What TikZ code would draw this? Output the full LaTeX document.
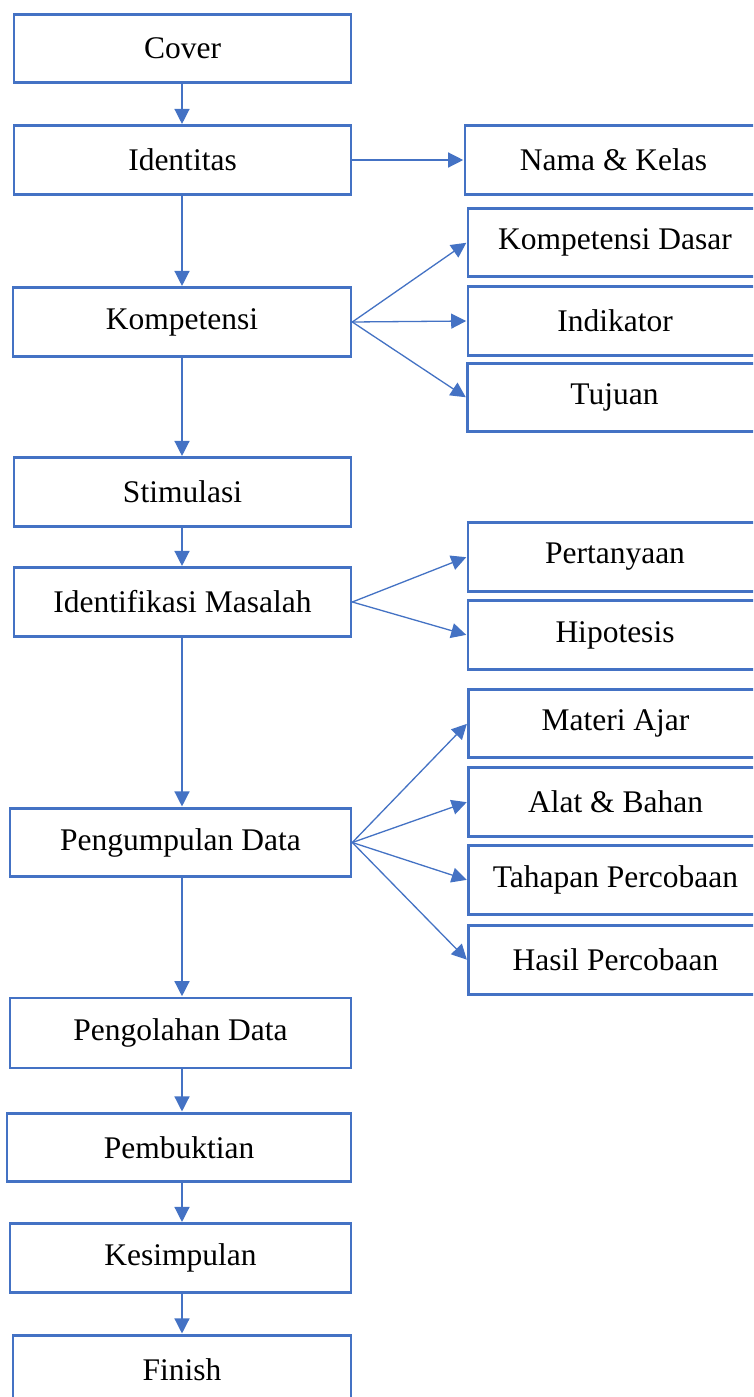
\documentclass[tikz,border=0pt]{standalone}
\usepackage{fontspec}
\setmainfont{Liberation Serif}
\usetikzlibrary{arrows.meta}
\definecolor{boxblue}{HTML}{4472C4}
\begin{document}
\begin{tikzpicture}[x=1pt,y=-1pt,
  box/.style={draw=boxblue, line width=2.6pt, fill=white, inner sep=0pt,
    minimum height=68.5pt, text=black, font=\fontsize{31.5}{36}\selectfont},
  leftbox/.style={box, minimum width=337pt},
  rightbox/.style={box, minimum width=294pt},
  arr/.style={draw=boxblue, line width=1.3pt,
    -{Triangle[length=15pt,width=15pt]}, shorten >=0.5pt}]
\useasboundingbox (0,0) rectangle (753,1397);
\clip (0,0) rectangle (753,1397);
\fill[white] (0,0) rectangle (753,1397);
\coordinate (spine) at (182,0);

% main column
\node[leftbox] (cover)    at (182.5,48.5)  {Cover};
\node[leftbox] (identitas) at (182.5,160)  {Identitas};
\node[leftbox, minimum width=338pt] (komp) at (182,322) {Kompetensi};
\node[leftbox] (stim)     at (182.5,492)   {Stimulasi};
\node[leftbox] (ident)    at (182.5,602)   {Identifikasi Masalah};
\node[leftbox, minimum width=341pt] (kumpul) at (180.5,842.5) {Pengumpulan Data};
\node[leftbox, minimum width=341pt, minimum height=70pt] (olah) at (180.5,1033) {Pengolahan Data};
\node[leftbox, minimum width=344pt] (bukti) at (179,1147.5) {Pembuktian};
\node[leftbox, minimum width=341pt] (simpul) at (180.5,1258) {Kesimpulan};
\node[leftbox, minimum width=338pt] (finish) at (182,1369.5) {Finish};

% side boxes
\node[rightbox, minimum width=297pt] (nama) at (613.5,160) {Nama \& Kelas};
\node[rightbox] (kd)     at (615,242.5) {Kompetensi Dasar};
\node[rightbox] (indi)   at (615,321)   {Indikator};
\node[rightbox] (tuj)    at (614.5,397.5) {Tujuan};
\node[rightbox] (tanya)  at (615,557)   {Pertanyaan};
\node[rightbox] (hipo)   at (615,635)   {Hipotesis};
\node[rightbox] (materi) at (615.5,723.5) {Materi Ajar};
\node[rightbox] (alat)   at (615.5,802) {Alat \& Bahan};
\node[rightbox] (tahap)  at (615.5,880) {Tahapan Percobaan};
\node[rightbox] (hasil)  at (615.5,960) {Hasil Percobaan};

% main flow
\foreach \a/\b in {cover/identitas, identitas/komp, komp/stim, stim/ident,
                   ident/kumpul, kumpul/olah, olah/bukti, bukti/simpul, simpul/finish}
  \draw[arr] (\a.south -| spine) -- (\b.north -| spine);

% branches
\draw[arr] (identitas.east) -- (nama.west);
\foreach \t in {kd, indi, tuj}
  \draw[arr] (komp.east) -- (\t.west);
\foreach \t in {tanya, hipo}
  \draw[arr] (ident.east) -- (\t.west);
\foreach \t in {materi, alat, tahap, hasil}
  \draw[arr] (kumpul.east) -- (\t.west);
\end{tikzpicture}
\end{document}
